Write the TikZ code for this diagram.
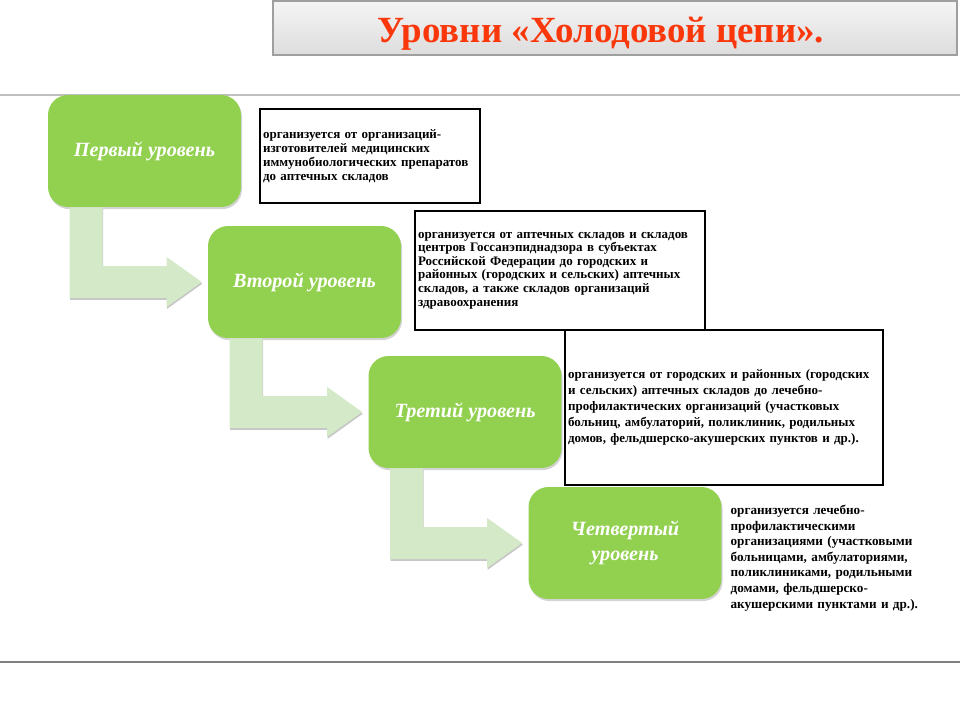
\documentclass[tikz,border=0pt]{standalone}
\usepackage{fontspec}
\setmainfont{Liberation Serif}
\usetikzlibrary{calc,shadows}
\definecolor{lvlgreen}{RGB}{146,208,80}
\definecolor{arrgreen}{RGB}{212,233,199}
\definecolor{ttlred}{RGB}{250,55,10}
\begin{document}
\begin{tikzpicture}[x=0.02cm,y=-0.02cm,
  lvl/.style={fill=lvlgreen,rounded corners=0.4cm,minimum width=3.86cm,minimum height=2.24cm,
    text=white,align=center,font=\fontsize{11.5}{14.5}\selectfont\bfseries\itshape,
    drop shadow={shadow xshift=0.6pt,shadow yshift=-1.2pt,opacity=0.35}},
  info/.style={draw,line width=0.7pt,align=left,inner xsep=0.06cm,inner ysep=2pt},
  stepflow/.style={fill=arrgreen,drop shadow={shadow xshift=0.3pt,shadow yshift=-1pt,opacity=0.45}}]
\useasboundingbox (0,0) rectangle (960,720);
% title bar
\draw[gray!75,line width=1.2pt,top color=gray!8,bottom color=gray!27] (273,1) rectangle (957,55);
\node[text=ttlred,font=\fontsize{21}{25}\selectfont\bfseries] (title) at (601,34) {Уровни «Холодовой цепи».};
\draw[gray!50,line width=1pt] (0,95)--(960,95);
\draw[gray,line width=0.85pt] (0,662)--(960,662);
% levels
\node[lvl] (lvlA) at (144.5,151) {Первый уровень};
\node[lvl] (lvlB) at (304.5,282) {Второй уровень};
\node[lvl] (lvlC) at (465,412) {Третий уровень};
\node[lvl] (lvlD) at (625,543) {Четвертый\\уровень};
\foreach \a/\b in {lvlA/lvlB,lvlB/lvlC,lvlC/lvlD}{
  \fill[stepflow] ($(\a.south west)+(22,0)$) |- ($(\b.west)+(-41,16)$) -- ++(0,9) -- ($(\b.west)+(-6,0)$)
    -- ($(\b.west)+(-41,-25)$) -- ++(0,9) -| ($(\a.south west)+(55,0)$) -- cycle;}
% texts
\node[info,text width=4.28cm,minimum height=1.88cm,font=\fontsize{7.4}{7.9}\selectfont\bfseries] (infoA) at (370,156)
  {организуется от организаций-\\изготовителей медицинских\\иммунобиологических препаратов\\до аптечных складов};
\node[info,text width=5.68cm,minimum height=2.38cm,font=\fontsize{7.4}{7.7}\selectfont\bfseries] (infoB) at (560,270.5)
  {организуется от аптечных складов и складов\\центров Госсанэпиднадзора в субъектах\\Российской Федерации до городских и\\районных (городских и сельских) аптечных\\складов, а также складов организаций\\здравоохранения};
\node[info,text width=6.24cm,minimum height=3.1cm,font=\fontsize{7.4}{9}\selectfont\bfseries] (infoC) at (724,407.5)
  {организуется от городских и районных (городских\\и сельских) аптечных складов до лечебно-\\профилактических организаций (участковых\\больниц, амбулаторий, поликлиник, родильных\\домов, фельдшерско-акушерских пунктов и др.).};
\node[info,draw=none,anchor=west,text width=4cm,font=\fontsize{7.5}{8.9}\selectfont\bfseries] (infoD) at (727,558)
  {организуется лечебно-\\профилактическими\\организациями (участковыми\\больницами, амбулаториями,\\поликлиниками, родильными\\домами, фельдшерско-\\акушерскими пунктами и др.).};
\end{tikzpicture}
\end{document}
